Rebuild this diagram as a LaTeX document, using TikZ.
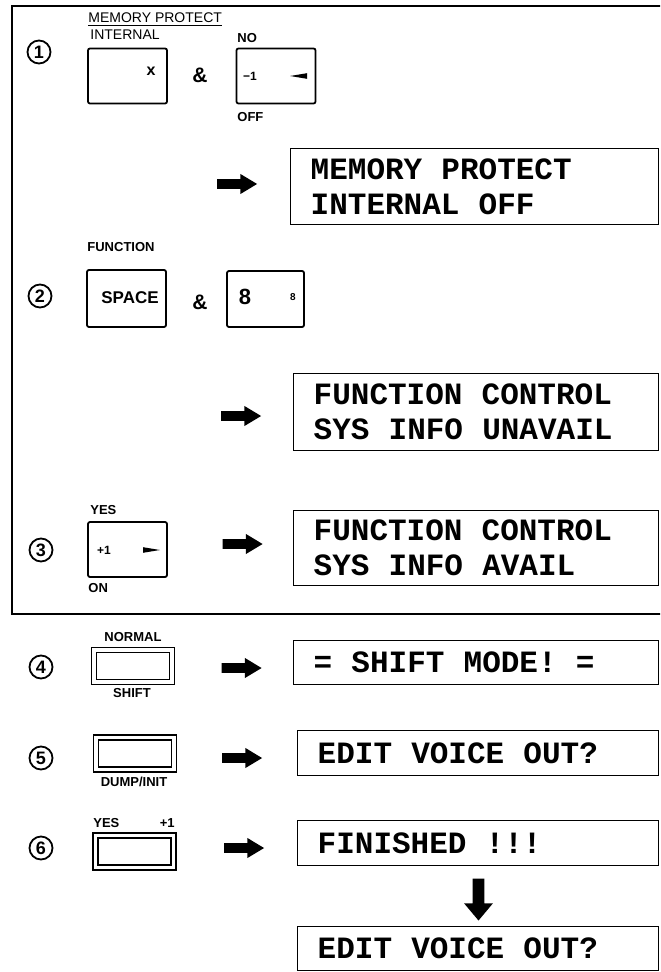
\documentclass[tikz,border=0pt]{standalone}
\usepackage{fontspec}
\setmainfont{Liberation Sans}
\newfontfamily\lcdfont{Liberation Mono}
\usetikzlibrary{shapes.arrows}

\tikzset{
  stepnum/.style={circle, draw, line width=0.9pt, minimum size=11.5pt, inner sep=0pt,
    font=\bfseries\fontsize{9}{9}\selectfont},
  keybox/.style={draw, line width=0.9pt, rounded corners=1pt, minimum width=39.5pt,
    minimum height=27.5pt, inner sep=0pt},
  widekey/.style={draw, double, line width=0.8pt, double distance=1.6pt,
    minimum width=39pt, minimum height=16pt, inner sep=0pt},
  keylabel/.style={inner sep=0pt, font=\bfseries\fontsize{6.5}{7}\selectfont},
  lcd/.style={draw, line width=0.7pt, anchor=north west, inner xsep=10pt, inner ysep=0pt,
    align=left, text width=#1, font=\lcdfont\bfseries\fontsize{15.5}{17.5}\selectfont,
    execute at begin node={\spaceskip=9.6pt\relax}},
  fatarrow/.style={single arrow, fill=black, inner xsep=0pt, inner ysep=2.25pt,
    minimum height=20pt, minimum width=9.5pt, single arrow head extend=2.6pt,
    single arrow tip angle=62}
}

\begin{document}
\begin{tikzpicture}[x=0.5pt,y=-0.5pt]
  \useasboundingbox (0,0) rectangle (660,972);
  \clip (0,0) rectangle (660,972);

  % frame round steps 1-3
  \draw[line width=0.8pt] (666,6) -- (12,6) -- (12,614) -- (666,614);

  % step 1
  \node[stepnum] (num1) at (39,52) {1};
  \node[anchor=base west, inner sep=0pt, font=\fontsize{7}{8}\selectfont] (mp) at (88,23) {MEMORY PROTECT};
  \draw[line width=0.5pt] ([yshift=-1.2pt]mp.base west) -- ([yshift=-1.2pt]mp.base east);
  \node[anchor=base west, inner sep=0pt, font=\fontsize{7}{8}\selectfont] (internal) at (90,40) {INTERNAL};
  \node[keybox] (memkey) at (127.5,76) {};
  \node[keylabel, font=\bfseries\fontsize{8}{8}\selectfont] (xmark) at (151,71) {x};
  \node[font=\bfseries\fontsize{10.5}{11}\selectfont] (and1) at (200,75) {\&};
  \node[anchor=base west, keylabel] (no) at (237,43) {NO};
  \node[keybox] (offkey) at (276,76) {};
  \node[keylabel, font=\bfseries\fontsize{6}{6}\selectfont] (minus) at (250,76) {−1};
  \fill (290,76) -- (307,73.2) -- (307,78.8) -- cycle;
  \node[anchor=base west, keylabel] (off) at (237,122) {OFF};
  \node[fatarrow] (arr1) at (233,184) {};
  \node[lcd=164pt, minimum height=38pt] (disp1) at (290,148) {MEMORY PROTECT\\INTERNAL OFF};

  % step 2
  \node[stepnum] (num2) at (40,296) {2};
  \node[anchor=base west, keylabel] (fn) at (87,252) {FUNCTION};
  \node[keybox, minimum height=28.5pt] (spacekey) at (126.5,298.5) {};
  \node[keylabel, font=\bfseries\fontsize{8.5}{9}\selectfont] (space) at (130,298) {SPACE};
  \node[font=\bfseries\fontsize{10.5}{11}\selectfont] (and2) at (200,302) {\&};
  \node[keybox, minimum width=38.5pt, minimum height=28pt] (eightkey) at (265.5,299) {};
  \node[keylabel, font=\bfseries\fontsize{11}{11}\selectfont] (eight) at (245,297) {8};
  \node[keylabel, font=\bfseries\fontsize{5}{5}\selectfont] (eightsm) at (293,297) {8};
  \node[fatarrow] (arr2) at (237,416) {};
  \node[lcd=162.5pt, minimum height=38.5pt] (disp2) at (293,373) {FUNCTION CONTROL\\SYS INFO UNAVAIL};

  % step 3
  \node[stepnum] (num3) at (41,550) {3};
  \node[anchor=base west, keylabel] (yes1) at (90,514) {YES};
  \node[keybox] (onkey) at (127.5,549.5) {};
  \node[keylabel, font=\bfseries\fontsize{6}{6}\selectfont] (plus) at (104,550) {+1};
  \fill (160,550) -- (143,547.2) -- (143,552.8) -- cycle;
  \node[anchor=base west, keylabel] (on) at (88,592) {ON};
  \node[fatarrow] (arr3) at (238.5,544) {};
  \node[lcd=162.5pt, minimum height=37.5pt] (disp3) at (293,510) {FUNCTION CONTROL\\SYS INFO AVAIL};

  % step 4
  \node[stepnum] (num4) at (41,667) {4};
  \node[widekey] (shiftkey) at (133,666) {};
  \node[keylabel, anchor=base] (normal) at (133,641) {NORMAL};
  \node[keylabel, anchor=base] (shift) at (132,697) {SHIFT};
  \node[fatarrow] (arr4) at (237.5,668) {};
  \node[lcd=162.5pt, minimum height=22pt] (disp4) at (293,640) {= SHIFT MODE! =};

  % step 5
  \node[stepnum] (num5) at (41,758) {5};
  \node[widekey] (dumpkey) at (135,753.5) {};
  \node[keylabel, anchor=base] (dump) at (134,786) {DUMP/INIT};
  \node[fatarrow] (arr5) at (238,758) {};
  \node[lcd=160.5pt, minimum height=22.5pt] (disp5) at (297,730) {EDIT VOICE OUT?};

  % step 6
  \node[stepnum] (num6) at (41,848) {6};
  \node[widekey] (yeskey) at (134.5,851.5) {};
  \node[keylabel, anchor=base west] (yes2) at (93,827) {YES};
  \node[keylabel, anchor=base east] (plus2) at (175,827) {+1};
  \node[fatarrow] (arr6) at (240,848) {};
  \node[fatarrow, rotate=-90, inner ysep=2.75pt, minimum height=21pt, minimum width=14pt,
    single arrow head extend=4.2pt, single arrow tip angle=80] (down) at (478.5,896) {};
  \node[lcd=160.5pt, minimum height=22.5pt] (disp6) at (297,820) {FINISHED !!!};
  \node[lcd=160.5pt, minimum height=22pt] (disp7) at (297,926) {EDIT VOICE OUT?};
\end{tikzpicture}
\end{document}
